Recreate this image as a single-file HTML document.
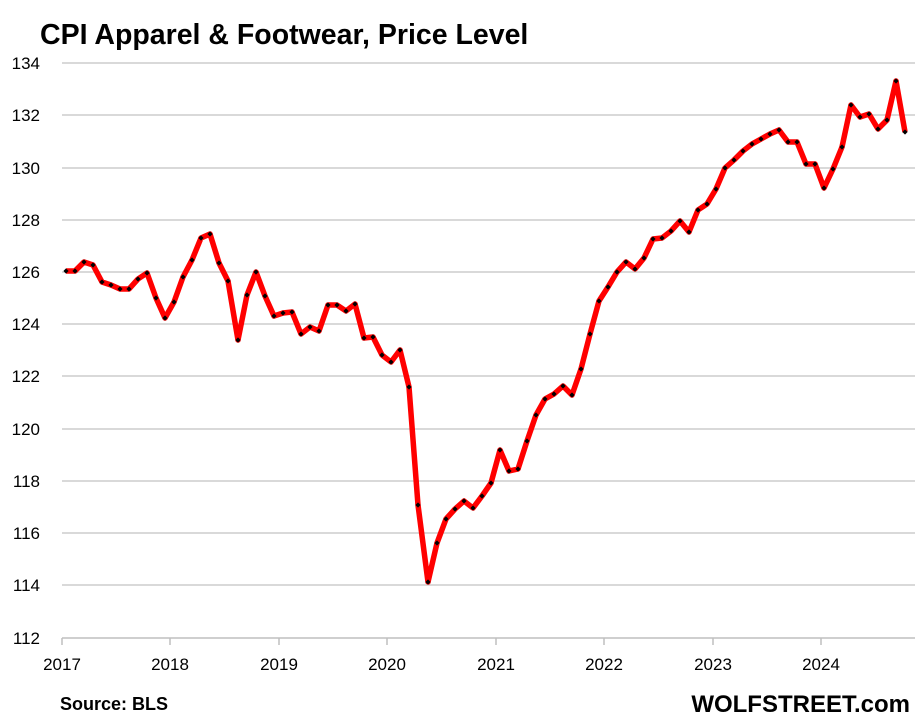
<!DOCTYPE html>
<html><head><meta charset="utf-8"><style>
body{margin:0;background:#fff;}
svg{display:block;font-family:"Liberation Sans",sans-serif;}
</style></head><body>
<svg width="918" height="723" viewBox="0 0 918 723">
<defs>
<marker id="dm" viewBox="-3 -3 6 6" markerWidth="6" markerHeight="6" markerUnits="userSpaceOnUse" refX="0" refY="0" orient="0">
<path d="M0,-2.6 L2.6,0 L0,2.6 L-2.6,0 Z" fill="#000"/>
</marker>
</defs>
<text x="40" y="44" font-size="28.5" font-weight="bold" fill="#000">CPI Apparel &amp; Footwear, Price Level</text>
<g stroke="#d9d9d9" stroke-width="2">
<line x1="62" x2="915" y1="63" y2="63"/><line x1="62" x2="915" y1="115" y2="115"/>
<line x1="62" x2="915" y1="168" y2="168"/><line x1="62" x2="915" y1="220" y2="220"/>
<line x1="62" x2="915" y1="272" y2="272"/><line x1="62" x2="915" y1="324" y2="324"/>
<line x1="62" x2="915" y1="376" y2="376"/><line x1="62" x2="915" y1="429" y2="429"/>
<line x1="62" x2="915" y1="481" y2="481"/><line x1="62" x2="915" y1="533" y2="533"/>
<line x1="62" x2="915" y1="585" y2="585"/>
</g>
<line x1="62" x2="915" y1="638" y2="638" stroke="#bfbfbf" stroke-width="1.5"/>
<g stroke="#bfbfbf" stroke-width="1.5">
<line x1="62" x2="62" y1="638" y2="645"/><line x1="170" x2="170" y1="638" y2="645"/>
<line x1="279" x2="279" y1="638" y2="645"/><line x1="387" x2="387" y1="638" y2="645"/>
<line x1="496" x2="496" y1="638" y2="645"/><line x1="604" x2="604" y1="638" y2="645"/>
<line x1="713" x2="713" y1="638" y2="645"/><line x1="821" x2="821" y1="638" y2="645"/>
</g>
<g font-size="17" fill="#000" text-anchor="end">
<text x="40" y="69">134</text><text x="40" y="121">132</text><text x="40" y="174">130</text>
<text x="40" y="226">128</text><text x="40" y="278">126</text><text x="40" y="330">124</text>
<text x="40" y="382">122</text><text x="40" y="435">120</text><text x="40" y="487">118</text>
<text x="40" y="539">116</text><text x="40" y="591">114</text><text x="40" y="644">112</text>
</g>
<g font-size="17" fill="#000" text-anchor="middle">
<text x="62" y="670">2017</text><text x="170" y="670">2018</text><text x="279" y="670">2019</text>
<text x="387" y="670">2020</text><text x="496" y="670">2021</text><text x="604" y="670">2022</text>
<text x="713" y="670">2023</text><text x="821" y="670">2024</text>
</g>
<text x="60" y="710" font-size="18" font-weight="bold">Source: BLS</text>
<text x="910" y="712" font-size="24" font-weight="bold" text-anchor="end">WOLFSTREET.com</text>
<polyline fill="none" stroke="#ff0000" stroke-width="5.5" stroke-linejoin="round" marker-start="url(#dm)" marker-mid="url(#dm)" marker-end="url(#dm)" points="66,271 75,271 84,262 93,265 102,282 111,285 120,289 129,289 138,279 147,273 156,298 165,318 174,302 183,277 192,260 201,238 210,234 219,263 228,281 238,340 247,295 256,272 265,296 274,316 283,313 292,312 301,334 310,327 319,331 328,305 337,305 346,311 355,304 364,338 373,337 382,355 391,362 400,350 409,387 418,505 428,582 437,543 446,519 455,509 464,501 473,508 482,496 491,483 500,450 509,471 518,469 527,441 536,415 545,399 554,394 563,386 572,395 581,369 590,334 599,301 608,287 617,272 626,262 635,269 644,258 653,239 662,238 671,231 680,221 689,232 698,210 707,204 716,189 725,168 734,160 743,151 752,144 761,139 770,134 779,130 788,142 797,142 806,164 815,164 824,188 833,169 842,147 851,105 860,117 869,114 878,129 887,120 896,81 905,132"/>
</svg>
</body></html>
